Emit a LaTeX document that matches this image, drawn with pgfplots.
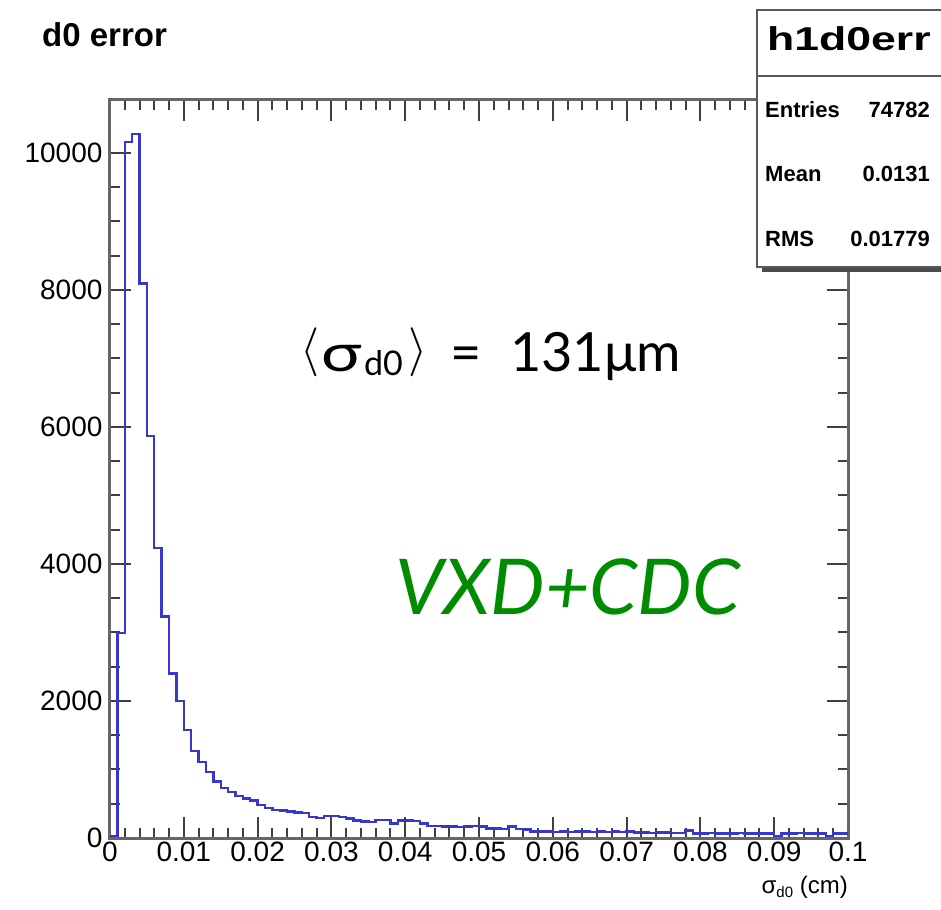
\documentclass[border=0pt]{standalone}
\usepackage{fontspec}
\setmainfont{Liberation Sans}
\newfontfamily\statfont[FakeStretch=1.35]{Liberation Sans}
\newfontfamily\lato{Lato}
\usepackage{pgfplots}
\usepackage{pgfplotstable}
\pgfplotsset{compat=1.18}

\definecolor{histblue}{RGB}{55,55,205}
\definecolor{labelgreen}{RGB}{0,140,0}

% d0 error, 100 bins of 0.001 cm (left bin edge, entries); last row closes the outline
\pgfplotstableread{
x      n
0.000  25
0.001  2990
0.002  10160
0.003  10270
0.004  8090
0.005  5870
0.006  4230
0.007  3230
0.008  2400
0.009  2000
0.010  1580
0.011  1270
0.012  1110
0.013  965
0.014  825
0.015  730
0.016  675
0.017  612
0.018  578
0.019  545
0.020  485
0.021  435
0.022  410
0.023  400
0.024  385
0.025  370
0.026  362
0.027  305
0.028  296
0.029  320
0.030  321
0.031  310
0.032  287
0.033  253
0.034  240
0.035  236
0.036  263
0.037  260
0.038  214
0.039  255
0.040  256
0.041  250
0.042  214
0.043  178
0.044  172
0.045  165
0.046  166
0.047  163
0.048  170
0.049  171
0.050  168
0.051  140
0.052  136
0.053  127
0.054  165
0.055  127
0.056  125
0.057  94
0.058  92
0.059  95
0.060  90
0.061  93
0.062  91
0.063  92
0.064  94
0.065  90
0.066  92
0.067  91
0.068  93
0.069  90
0.070  92
0.071  78
0.072  79
0.073  77
0.074  78
0.075  80
0.076  72
0.077  70
0.078  107
0.079  68
0.080  67
0.081  69
0.082  68
0.083  66
0.084  68
0.085  69
0.086  67
0.087  68
0.088  66
0.089  68
0.090  29
0.091  68
0.092  67
0.093  69
0.094  68
0.095  66
0.096  68
0.097  30
0.098  68
0.099  66
0.100  66
}\dzeroerr

\begin{document}
\begin{tikzpicture}
% page frame
\path[use as bounding box] (-110pt,-71pt) rectangle (831pt,838pt);

\begin{axis}[
  at={(0pt,0pt)}, anchor=south west,
  scale only axis, width=738pt, height=738pt,
  xmin=0, xmax=0.1, ymin=0, ymax=10770,
  scaled x ticks=false, scaled y ticks=false,
  xtick={0,0.01,0.02,0.03,0.04,0.05,0.06,0.07,0.08,0.09,0.1},
  xticklabels={0,0.01,0.02,0.03,0.04,0.05,0.06,0.07,0.08,0.09,0.1},
  ytick={0,2000,4000,6000,8000,10000},
  yticklabels={0,2000,4000,6000,8000,10000},
  minor x tick num=4,
  minor y tick num=3,
  tick align=inside,
  major tick length=21pt,
  minor tick length=10pt,
  tick style={draw=black!75, line width=2pt},
  axis line style={draw=black!60, line width=3pt},
  ticklabel style={font=\fontsize{28}{28}\selectfont},
  yticklabel style={xshift=-4pt},
]
\addplot[const plot mark left, draw=histblue, line width=2.4pt] table[x=x, y=n] {\dzeroerr};
\end{axis}

% title
\node[anchor=base west, inner sep=0pt] at (-68pt,791pt)
  {\fontsize{33}{33}\selectfont\bfseries d0 error};

% statistics box
\fill[black!70] (652pt,566pt) rectangle (960pt,571pt);
\draw[draw=black!65, line width=2pt, fill=white] (647pt,571pt) rectangle (960pt,828pt);
\draw[draw=black!65, line width=2pt] (647pt,762pt) -- (960pt,762pt);
\node[anchor=base west, inner sep=0pt] at (657pt,787pt)
  {\statfont\fontsize{33}{33}\selectfont\bfseries h1d0err};
\begin{scope}[every node/.style={inner sep=0pt}]
\node[anchor=base west] at (655pt,720pt) {\fontsize{22}{22}\selectfont\bfseries Entries};
\node[anchor=base east] at (820pt,720pt) {\fontsize{22}{22}\selectfont\bfseries 74782};
\node[anchor=base west] at (655pt,656pt) {\fontsize{22}{22}\selectfont\bfseries Mean};
\node[anchor=base east] at (820pt,656pt) {\fontsize{22}{22}\selectfont\bfseries 0.0131};
\node[anchor=base west] at (655pt,591pt) {\fontsize{22}{22}\selectfont\bfseries RMS};
\node[anchor=base east] at (820pt,591pt) {\fontsize{22}{22}\selectfont\bfseries 0.01779};
\end{scope}

% mean resolution <sigma_d0> = 131 um, set piece by piece
\begin{scope}[every node/.style={anchor=base west, inner sep=0pt}]
  \node at (190pt,466pt) {\raisebox{7pt}{\resizebox*{!}{49pt}{$\langle$}}};
  \node at (211pt,466pt) {\lato\fontsize{52}{52}\selectfont\scalebox{1.3}[1]{σ}};
  \node at (254pt,462pt) {\lato\fontsize{34}{34}\selectfont d0};
  \node at (298pt,466pt) {\raisebox{7pt}{\resizebox*{!}{49pt}{$\rangle$}}};
  \node at (340pt,466pt) {\lato\fontsize{54}{54}\selectfont =};
  \node at (400pt,466pt) {\lato\fontsize{54}{54}\selectfont 131μm};
\end{scope}

% tracking configuration
\node[anchor=base west, inner sep=0pt, text=labelgreen] at (285pt,223pt)
  {\lato\itshape\fontsize{77}{77}\selectfont VXD+CDC};

% x axis title
\node[anchor=base east, inner sep=0pt] at (738pt,-55pt)
  {\fontsize{24}{24}\selectfont σ\raisebox{-4pt}{\fontsize{15}{15}\selectfont d0} (cm)};
\end{tikzpicture}
\end{document}
